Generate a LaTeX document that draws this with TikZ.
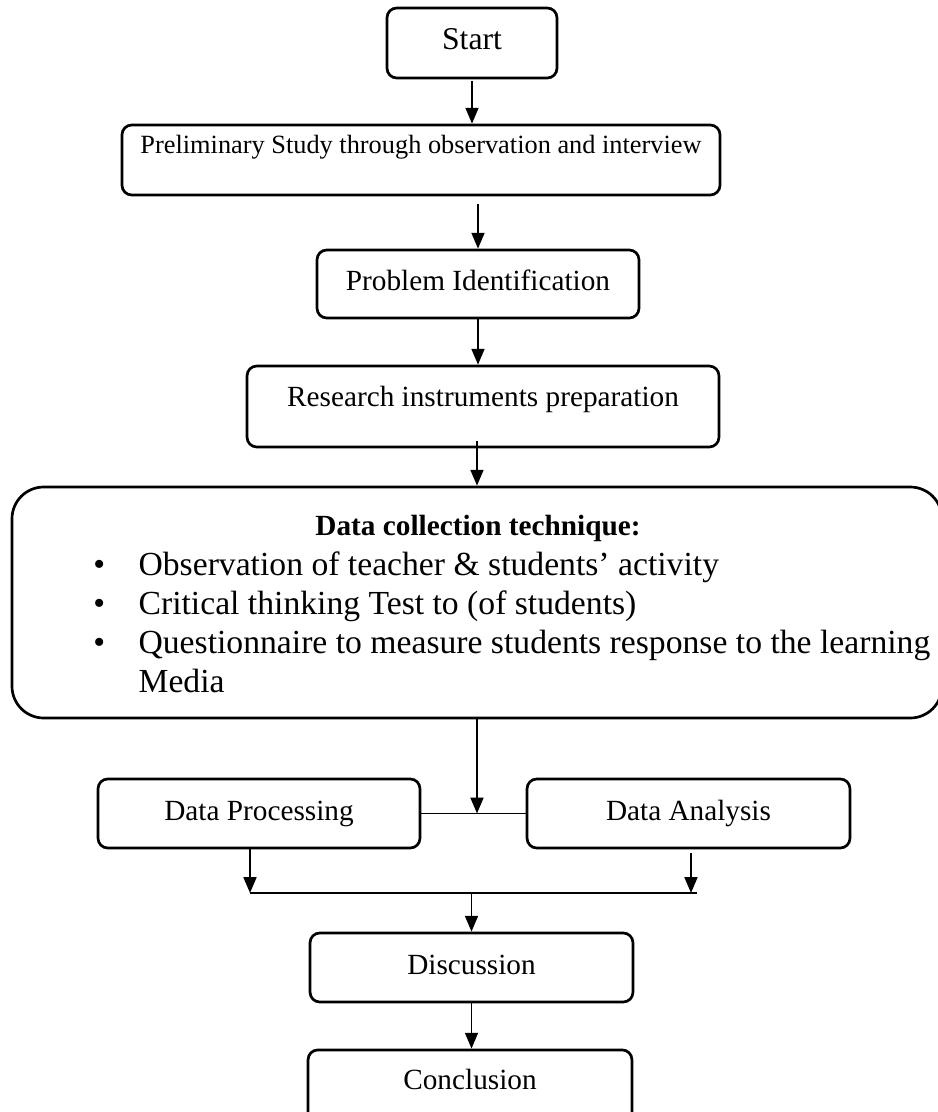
\documentclass[tikz,border=0pt]{standalone}
\usepackage{fontspec}
\setmainfont{Liberation Serif}
\usetikzlibrary{arrows.meta}

\tikzset{
  stage/.style={draw, line width=1.1pt, rounded corners=4pt, inner sep=0pt,
    font=\fontsize{12}{14}\selectfont, text height=8.2pt, text depth=2.6pt},
  flow/.style={-{Triangle[length=6.5pt,width=5.3pt]}, line width=0.8pt},
  link/.style={line width=0.6pt}
}

\begin{document}
\begin{tikzpicture}[x=0.41pt,y=-0.41pt]
\useasboundingbox (0,0) rectangle (937,1112);
% Stages of the study, top to bottom
              \node[stage, minimum width=69.7pt, minimum height=28.7pt, font=\fontsize{13}{15}\selectfont] (start) at (472,43) {Start};
              \node[stage, minimum width=245.2pt, minimum height=28.7pt, font=\fontsize{10.8}{13}\selectfont, text depth=13.3pt] (prelim) at (421,160) {Preliminary Study through observation and interview};
              \node[stage, minimum width=132pt, minimum height=27.9pt] (problem) at (478,284) {Problem Identification};
              \node[stage, minimum width=193.5pt, minimum height=33.2pt, text depth=8.2pt] (research) at (483,406.5) {Research instruments preparation};
% Big box with the data collection techniques
              \node[draw, line width=1.1pt, rounded corners=13pt, minimum width=381.3pt, minimum height=94.7pt] (bigbox) at (477,602.5) {};
              \node[font=\bfseries\fontsize{12}{14}\selectfont, anchor=base] (dctitle) at (478,535) {Data collection technique:};
              \node[anchor=base west, inner sep=0pt, font=\fontsize{13.8}{16}\selectfont] (dclist) at (93,575) {%
                \begin{tabular}[t]{@{}p{18.5pt}@{}l@{}}
                  \textbullet & Observation of teacher \& students’ activity\\
                  \textbullet & Critical thinking Test to (of students)\\
                  \textbullet & Questionnaire to measure students response to the learning\\
                              & Media
                \end{tabular}};
% Processing and analysis side by side
              \node[stage, minimum width=132pt, minimum height=28.3pt] (dp) at (259,813.5) {Data Processing};
              \node[stage, minimum width=132.4pt, minimum height=28.3pt] (da) at (688.5,813.5) {Data Analysis};
% Last stages
              \node[stage, minimum width=132.4pt, minimum height=28.3pt] (disc) at (471.5,967.5) {Discussion};
              \node[stage, minimum width=132.8pt, minimum height=30.8pt, text depth=6.4pt] (concl) at (470,1087.5) {Conclusion};
% Arrows down the upper part
              \draw[flow] ([yshift=-0.8pt]start.south) -- (start.south |- prelim.north);
              \draw[flow] ([yshift=-3pt]problem.north |- prelim.south) -- (problem.north);
              \draw[flow] (problem.south) -- (problem.south |- research.north);
              \draw[flow] ([yshift=2.9pt]bigbox.north |- research.south) -- (bigbox.north);
% Arrow into the line between processing and analysis
              \coordinate (join) at (bigbox.south |- dp.east);
              \draw[link] (dp.east) -- (da.west);
              \draw[flow] (bigbox.south) -- (join);
% Both boxes merge into one line
              \coordinate (mergeL) at (250,893);
              \coordinate (mergeR) at (691,893);
              \draw[flow] (dp.south -| mergeL) -- (mergeL);
              \draw[flow] ([yshift=-1.6pt]da.south -| mergeR) -- (mergeR);
              \draw[link] (mergeL) -- ([xshift=2.5pt]mergeR);
              \draw[flow] (disc.north |- mergeL) -- (disc.north);
              \draw[flow] (disc.south) -- (disc.south |- concl.north);
        \end{tikzpicture}
\end{document}
